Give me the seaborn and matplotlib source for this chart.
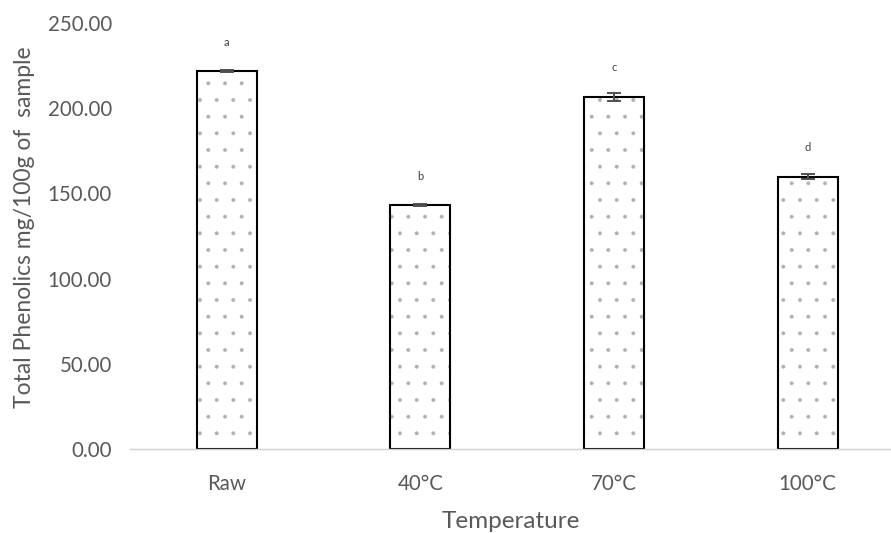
import matplotlib
matplotlib.use("Agg")
import matplotlib.pyplot as plt
import seaborn as sns
import pandas as pd

temperatures = ["Raw", "40°C", "70°C", "100°C"]
phenolics = [221.8, 143.2, 206.6, 159.8]
errors = [0.8, 0.6, 2.2, 1.6]
letters = ["a", "b", "c", "d"]

df = pd.DataFrame({"Temperature": temperatures, "Phenolics": phenolics})

sns.set_style("white")
plt.rcParams["font.family"] = ["Lato", "DejaVu Sans"]
plt.rcParams["hatch.linewidth"] = 0.35

fig = plt.figure(figsize=(8.91, 5.33), dpi=100)
ax = fig.add_axes([130 / 891, 84 / 533, 1 - 130 / 891, 426 / 533])

grey_text = "#595959"

# dotted fill first, then the black outline on top
sns.barplot(data=df, x="Temperature", y="Phenolics", ax=ax, width=0.31,
            color="white", edgecolor="#b0b0b0", linewidth=0, errorbar=None,
            hatch=".")
sns.barplot(data=df, x="Temperature", y="Phenolics", ax=ax, width=0.31,
            fill=False, edgecolor="black", linewidth=1.5, errorbar=None)

ax.errorbar(temperatures, phenolics, yerr=errors, fmt="none",
            ecolor="#505050", elinewidth=1.4, capsize=5, capthick=1.4)

for cat, val, let in zip(temperatures, phenolics, letters):
    ax.text(cat, val + 17, let, ha="center", va="center",
            fontsize=8, color="#404040")

ax.set_ylim(0, 250)
ax.set_xlim(-0.5, 3.43)
ax.set_yticks(range(0, 251, 50))
ax.set_yticklabels([f"{v:.2f}" for v in range(0, 251, 50)])

for side in ["top", "right", "left"]:
    ax.spines[side].set_visible(False)
ax.spines["bottom"].set_color("#d0d0d0")
ax.spines["bottom"].set_linewidth(1.0)

ax.tick_params(axis="both", length=0, labelsize=14.8, colors=grey_text)
ax.tick_params(axis="y", pad=13)
ax.tick_params(axis="x", pad=18)

ax.set_xlabel("Temperature", fontsize=17.5, color=grey_text, labelpad=12)
ax.set_ylabel("Total Phenolics mg/100g of  sample", fontsize=16.5,
              color=grey_text)
ax.yaxis.set_label_coords(-0.125, 0.52)

fig.savefig("out.png", dpi=100)
